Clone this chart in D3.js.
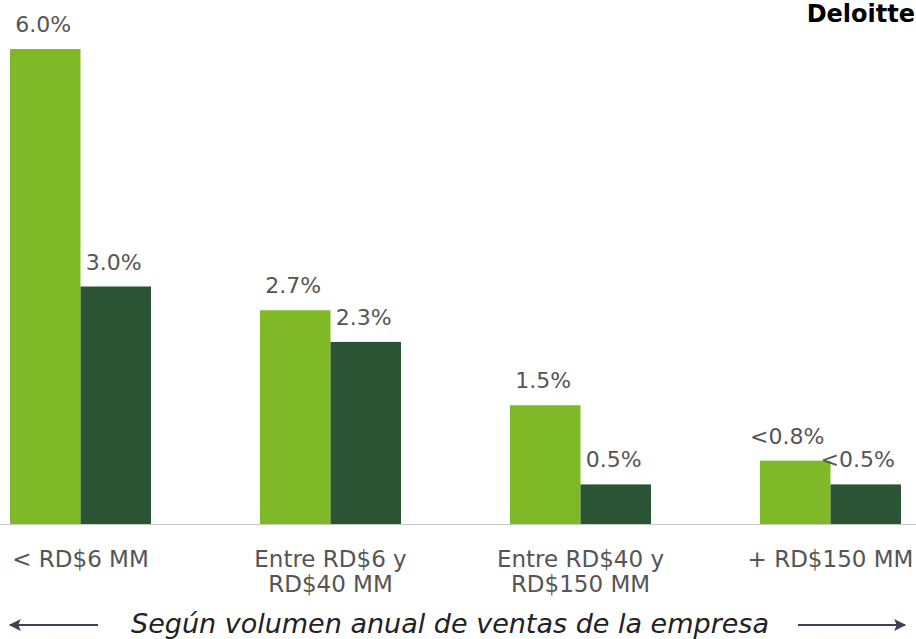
<!DOCTYPE html>
<html>
<head>
<meta charset="utf-8">
<script src="https://cdn.jsdelivr.net/npm/d3@7"></script>
<style>
  html, body { margin: 0; padding: 0; background: #fff; }
  svg { display: block; }
</style>
</head>
<body>
<script>
const categories = [["< RD$6 MM"], ["Entre RD$6 y", "RD$40 MM"], ["Entre RD$40 y", "RD$150 MM"], ["+ RD$150 MM"]];
const categoryKeys = ["c1", "c2", "c3", "c4"];
const seriesNames = ["s1", "s2"];
const series1Values = [6.0, 2.7, 1.5, 0.8];
const series2Values = [3.0, 2.3, 0.5, 0.5];
const series1Labels = ["6.0%", "2.7%", "1.5%", "<0.8%"];
const series2Labels = ["3.0%", "2.3%", "0.5%", "<0.5%"];
const colors = ["#80b927", "#2a5433"];
const footnote = "Según volumen anual de ventas de la empresa";
const brand = "Deloitte";

const W = 916, H = 639;
const baseY = 524;
const font = "Verdana, 'DejaVu Sans', sans-serif";

const svg = d3.select("body").append("svg").attr("width", W).attr("height", H);

const x0 = d3.scaleBand().domain(categoryKeys).range([10, 901]).paddingInner(0.436).paddingOuter(0);
const x1 = d3.scaleBand().domain(seriesNames).range([0, x0.bandwidth()]).padding(0);
const y = d3.scaleLinear().domain([0, 6.0]).range([baseY, 49]);

const data = categoryKeys.map((k, i) => ({
  key: k,
  vals: [
    { s: "s1", v: series1Values[i], label: series1Labels[i], c: colors[0] },
    { s: "s2", v: series2Values[i], label: series2Labels[i], c: colors[1] }
  ]
}));

const g = svg.selectAll("g.grp").data(data).enter().append("g")
  .attr("class", "grp")
  .attr("transform", d => `translate(${x0(d.key)},0)`);

g.selectAll("rect").data(d => d.vals).enter().append("rect")
  .attr("x", d => x1(d.s))
  .attr("y", d => y(d.v))
  .attr("width", x1.bandwidth())
  .attr("height", d => baseY - y(d.v))
  .attr("fill", d => d.c);

g.selectAll("text.val").data(d => d.vals).enter().append("text")
  .attr("class", "val")
  .attr("x", d => x1(d.s) + x1.bandwidth() / 2 + (d.label.startsWith("<") ? -8 : -2))
  .attr("y", d => y(d.v) - 17)
  .attr("text-anchor", "middle")
  .attr("font-family", font)
  .attr("font-size", 22)
  .attr("fill", "#555")
  .text(d => d.label);

// axis baseline
svg.append("line")
  .attr("x1", 0).attr("x2", W)
  .attr("y1", baseY + 0.5).attr("y2", baseY + 0.5)
  .attr("stroke", "#c8c8c8").attr("stroke-width", 1);

// category labels
categoryKeys.forEach((k, i) => {
  const cx = x0(k) + x0.bandwidth() / 2;
  const t = svg.append("text")
    .attr("x", cx)
    .attr("y", 567)
    .attr("text-anchor", "middle")
    .attr("font-family", font)
    .attr("font-size", 23)
    .attr("fill", "#555");
  categories[i].forEach((line, j) => {
    t.append("tspan").attr("x", cx).attr("dy", j === 0 ? 0 : 25).text(line);
  });
});

// footnote
svg.append("text")
  .attr("x", 450).attr("y", 633)
  .attr("text-anchor", "middle")
  .attr("font-family", font)
  .attr("font-style", "italic")
  .attr("font-size", 27)
  .attr("fill", "#222")
  .text(footnote);

// arrows
const defs = svg.append("defs");
defs.append("marker").attr("id", "ah").attr("viewBox", "0 0 10 10")
  .attr("refX", 9).attr("refY", 5).attr("markerWidth", 7).attr("markerHeight", 6)
  .attr("orient", "auto-start-reverse")
  .append("path").attr("d", "M0,0 L10,5 L0,10 L2,5 Z").attr("fill", "#3a4455");

svg.append("line").attr("x1", 98).attr("x2", 10).attr("y1", 625).attr("y2", 625)
  .attr("stroke", "#3a4455").attr("stroke-width", 2).attr("marker-end", "url(#ah)");
svg.append("line").attr("x1", 798).attr("x2", 905).attr("y1", 625).attr("y2", 625)
  .attr("stroke", "#3a4455").attr("stroke-width", 2).attr("marker-end", "url(#ah)");

// brand
svg.append("text")
  .attr("x", 915).attr("y", 22)
  .attr("text-anchor", "end")
  .attr("font-family", font)
  .attr("font-weight", "bold")
  .attr("font-size", 24)
  .attr("fill", "#000")
  .text(brand);
</script>
</body>
</html>
